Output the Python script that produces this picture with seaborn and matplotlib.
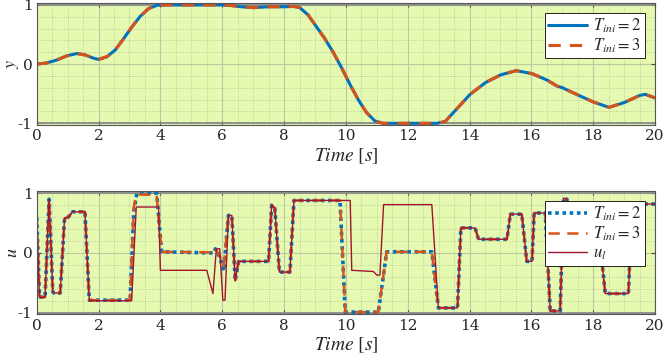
import matplotlib
matplotlib.use("Agg")
import matplotlib.pyplot as plt
import seaborn as sns
from matplotlib.ticker import MultipleLocator

# output y for both initialisation lengths (they overlap)
t_y = [0.0, 0.32, 0.65, 0.97, 1.3, 1.57, 1.84, 2.0, 2.27, 2.54, 2.81, 3.08, 3.35,
       3.62, 3.89, 4.2, 5.0, 6.0, 6.3, 6.6, 7.0, 7.5, 8.0, 8.3, 8.5, 8.78, 9.05,
       9.32, 9.59, 9.86, 10.13, 10.4, 10.67, 10.94, 11.2, 12.0, 12.94, 13.21,
       13.51, 14.02, 14.52, 15.01, 15.51, 16.02, 16.51, 16.83, 17.01, 17.5,
       18.01, 18.51, 19.0, 19.5, 19.68, 20.0]
y_tini2 = [0.0, 0.02, 0.07, 0.14, 0.18, 0.155, 0.1, 0.08, 0.125, 0.24, 0.43, 0.63,
           0.81, 0.94, 0.995, 1.0, 1.0, 1.0, 0.99, 0.97, 0.955, 0.97, 0.97, 0.975,
           0.96, 0.83, 0.63, 0.43, 0.2, -0.06, -0.34, -0.6, -0.82, -0.96, -1.0,
           -1.0, -1.0, -0.97, -0.8, -0.51, -0.31, -0.18, -0.11, -0.16, -0.27,
           -0.37, -0.4, -0.52, -0.64, -0.73, -0.65, -0.53, -0.51, -0.57]
y_tini3 = list(y_tini2)

# inputs
t_u2 = [0.0, 0.09, 0.12, 0.27, 0.40, 0.52, 0.56, 0.76, 0.90, 1.02, 1.16, 1.56,
        1.70, 3.02, 3.14, 3.24, 3.88, 4.04, 5.73, 5.78, 5.92, 6.05, 6.2, 6.31,
        6.42, 6.53, 7.5, 7.6, 7.7, 7.85, 8.19, 8.32, 9.81, 9.98, 11.05, 11.32,
        12.78, 12.99, 13.61, 13.72, 14.18, 14.29, 15.21, 15.32, 15.69, 15.85,
        16.02, 16.09, 16.45, 16.61, 16.93, 17.04, 17.15, 17.33, 18.28, 18.39,
        19.14, 19.25, 20.0]
u_tini2 = [0.60, -0.72, -0.74, -0.74, 0.90, -0.65, -0.67, -0.67, 0.58, 0.60,
           0.69, 0.69, -0.79, -0.79, 0.70, 1.0, 1.0, 0.02, 0.0, 0.07, -0.07,
           -0.30, 0.63, 0.63, -0.46, -0.14, -0.14, 0.80, 0.75, -0.32, -0.32,
           0.88, 0.88, -0.99, -0.99, 0.02, 0.02, -0.92, -0.92, 0.42, 0.42, 0.23,
           0.23, 0.65, 0.65, -0.14, -0.14, 0.67, 0.67, -0.97, -0.97, 0.92, 0.90,
           -0.16, -0.13, -0.68, -0.68, 0.82, 0.82]
t_u3 = list(t_u2)
u_tini3 = [0.60, -0.72, -0.74, -0.74, 0.90, -0.65, -0.67, -0.67, 0.58, 0.60,
           0.69, 0.69, -0.79, -0.79, 0.78, 0.98, 0.97, 0.02, 0.01, 0.07, -0.05,
           -0.22, 0.63, 0.63, -0.46, -0.14, -0.14, 0.80, 0.75, -0.32, -0.32,
           0.88, 0.88, -0.99, -0.99, 0.02, 0.02, -0.92, -0.92, 0.42, 0.42, 0.23,
           0.23, 0.65, 0.65, -0.14, -0.14, 0.67, 0.67, -0.97, -0.97, 0.92, 0.90,
           -0.16, -0.13, -0.68, -0.68, 0.82, 0.82]
t_ul = [0.0, 0.09, 0.12, 0.27, 0.40, 0.52, 0.56, 0.76, 0.90, 1.02, 1.16, 1.56,
        1.70, 3.07, 3.22, 3.94, 4.0, 5.5, 5.7, 5.81, 5.92, 6.02, 6.09, 6.2, 6.31,
        6.42, 6.53, 7.5, 7.6, 7.7, 7.85, 8.19, 8.32, 10.14, 10.19, 10.89, 11.0,
        11.1, 11.22, 12.78, 12.99, 13.61, 13.72, 14.18, 14.29, 15.21, 15.32,
        15.69, 15.85, 16.02, 16.09, 16.45, 16.61, 16.93, 17.04, 17.15, 17.33,
        18.28, 18.39, 19.14, 19.25, 20.0]
u_l = [0.60, -0.72, -0.74, -0.74, 0.90, -0.65, -0.67, -0.67, 0.58, 0.60, 0.69,
       0.69, -0.80, -0.80, 0.77, 0.77, -0.29, -0.29, -0.68, 0.07, 0.07, -0.79,
       -0.79, 0.63, 0.63, -0.46, -0.14, -0.14, 0.80, 0.75, -0.32, -0.32, 0.88,
       0.88, -0.29, -0.31, -0.37, -0.37, 0.81, 0.81, -0.92, -0.92, 0.42, 0.42,
       0.23, 0.23, 0.65, 0.65, -0.14, -0.14, 0.67, 0.67, -0.97, -0.97, 0.92,
       0.90, -0.16, -0.13, -0.68, -0.68, 0.82, 0.82]

blue = "#0072BD"
orange = "#D95319"
dred = "#A2142F"
bg = "#e6f9b0"

sns.set_style("ticks")
plt.rcParams["font.family"] = ["DejaVu Serif"]
plt.rcParams["mathtext.fontset"] = "stix"
plt.rcParams["axes.unicode_minus"] = False

fig = plt.figure(figsize=(6.64, 3.6), dpi=100)
ax1 = fig.add_axes([0.0553, 0.6525, 0.9312, 0.3386])
ax2 = fig.add_axes([0.0553, 0.1264, 0.9312, 0.3417])

sns.lineplot(x=t_y, y=y_tini2, ax=ax1, color=blue, lw=2.2, estimator=None,
             sort=False, label=r"$T_{ini}=2$")
sns.lineplot(x=t_y, y=y_tini3, ax=ax1, color=orange, lw=2.2, estimator=None,
             sort=False, label=r"$T_{ini}=3$")
ax1.lines[-1].set_dashes([4, 3])

sns.lineplot(x=t_u2, y=u_tini2, ax=ax2, color=blue, lw=2.6, estimator=None,
             sort=False, label=r"$T_{ini}=2$")
ax2.lines[-1].set_dashes([1, 1])
ax2.lines[-1].set_dash_capstyle("butt")
sns.lineplot(x=t_u3, y=u_tini3, ax=ax2, color=orange, lw=1.8, estimator=None,
             sort=False, label=r"$T_{ini}=3$")
ax2.lines[-1].set_dashes([4.5, 3])
sns.lineplot(x=t_ul, y=u_l, ax=ax2, color=dred, lw=1.0, estimator=None,
             sort=False, label=r"$u_l$")

for ax, lab in [(ax1, "y"), (ax2, "u")]:
    ax.set_facecolor(bg)
    ax.axhline(1, color="#8a8a8a", lw=1.3, zorder=1)
    ax.axhline(-1, color="#8a8a8a", lw=1.3, zorder=1)
    ax.set_xlim(0, 20)
    ax.set_ylim(-1.03, 1.03)
    ax.set_xticks(range(0, 21, 2))
    ax.set_yticks([-1, 0, 1])
    ax.set_yticklabels(["-1", "0", "1"])
    ax.xaxis.set_minor_locator(MultipleLocator(0.5))
    ax.yaxis.set_minor_locator(MultipleLocator(0.2))
    ax.grid(True, which="major", color="#bccb9f", lw=0.8)
    ax.grid(True, which="minor", color="#b3c296", lw=0.6, linestyle=":")
    ax.set_axisbelow(True)
    ax.tick_params(which="both", direction="in", top=True, right=True,
                   labelsize=11, length=3, color="#444444", pad=3)
    ax.tick_params(which="minor", length=0)
    for sp in ax.spines.values():
        sp.set_color("#555555")
        sp.set_linewidth(0.8)
    ax.set_xlabel(r"$Time\ [s]$", fontsize=14, labelpad=2)
    ax.set_ylabel(r"$%s$" % lab, fontsize=13)
    ax.yaxis.set_label_coords(-0.026, 0.5)
    leg = ax.legend(loc="upper right", fancybox=False, edgecolor="black",
                    framealpha=1, fontsize=12, handlelength=2.3,
                    borderpad=0.2, labelspacing=0.1, handletextpad=0.4,
                    borderaxespad=0.6)
    leg.get_frame().set_linewidth(0.6)

fig.savefig("out.png", dpi=100)
